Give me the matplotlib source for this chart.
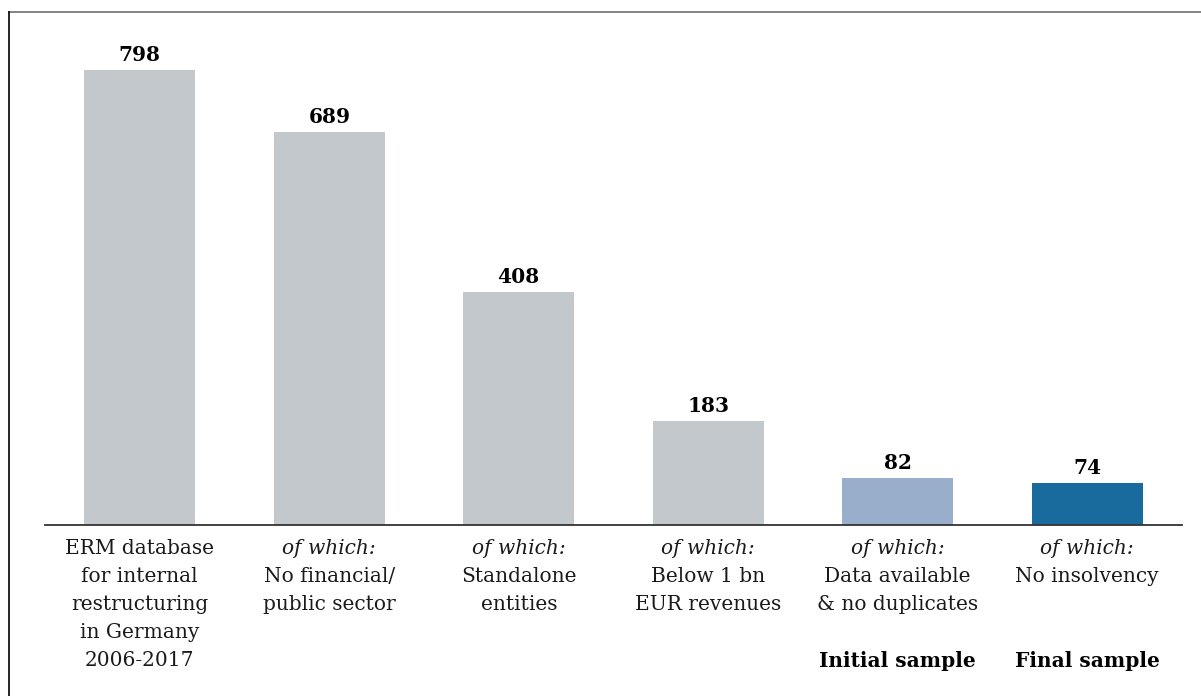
import matplotlib
matplotlib.use("Agg")
import matplotlib.pyplot as plt
from matplotlib.lines import Line2D

values = [798, 689, 408, 183, 82, 74]
label_heads = ["", "of which:", "of which:", "of which:", "of which:", "of which:"]
label_bodies = [
    ["ERM database", "for internal", "restructuring", "in Germany", "2006-2017"],
    ["No financial/", "public sector"],
    ["Standalone", "entities"],
    ["Below 1 bn", "EUR revenues"],
    ["Data available", "& no duplicates"],
    ["No insolvency"],
]
sample_notes = ["", "", "", "", "Initial sample", "Final sample"]
colors = ["#C3C8CC", "#C3C8CC", "#C3C8CC", "#C3C8CC", "#98AECB", "#1A6B9D"]

W, H = 1201, 696
dpi = 100
fig = plt.figure(figsize=(W / dpi, H / dpi), dpi=dpi)
font = "DejaVu Serif"

ax = fig.add_axes([45 / W, 1 - 525 / H, 1137 / W, 502 / H])
x = list(range(len(values)))
ax.bar(x, values, width=0.585, color=colors, zorder=2)
ax.set_xlim(-0.5, 5.5)
ax.set_ylim(0, 880)
for s in ["top", "right", "left"]:
    ax.spines[s].set_visible(False)
ax.spines["bottom"].set_color("#333333")
ax.spines["bottom"].set_linewidth(1.3)
ax.set_xticks([])
ax.set_yticks([])

for i, v in enumerate(values):
    ax.annotate(str(v), xy=(i, v), xytext=(0, 5), textcoords="offset pixels",
                ha="center", va="bottom", fontsize=14.5, fontweight="bold",
                family=font, color="black")

line_h = 28
for i in x:
    lines = []
    if label_heads[i]:
        lines.append((label_heads[i], "italic"))
    lines += [(t, "normal") for t in label_bodies[i]]
    for k, (t, style) in enumerate(lines):
        ax.annotate(t, xy=(i, 0), xytext=(0, -24 - k * line_h), textcoords="offset pixels",
                    ha="center", va="center", fontsize=14.5, style=style,
                    family=font, color="#1a1a1a")
    if sample_notes[i]:
        ax.annotate(sample_notes[i], xy=(i, 0), xytext=(0, -136), textcoords="offset pixels",
                    ha="center", va="center", fontsize=14.5, fontweight="bold",
                    family=font, color="black")

# frame lines
fig.add_artist(Line2D([9 / W, 1], [1 - 12 / H, 1 - 12 / H], transform=fig.transFigure,
                      color="#707070", lw=1.2))
fig.add_artist(Line2D([9 / W, 9 / W], [0, 1 - 12 / H], transform=fig.transFigure,
                      color="black", lw=1.2))

fig.savefig("out.png", dpi=dpi, facecolor="white")
